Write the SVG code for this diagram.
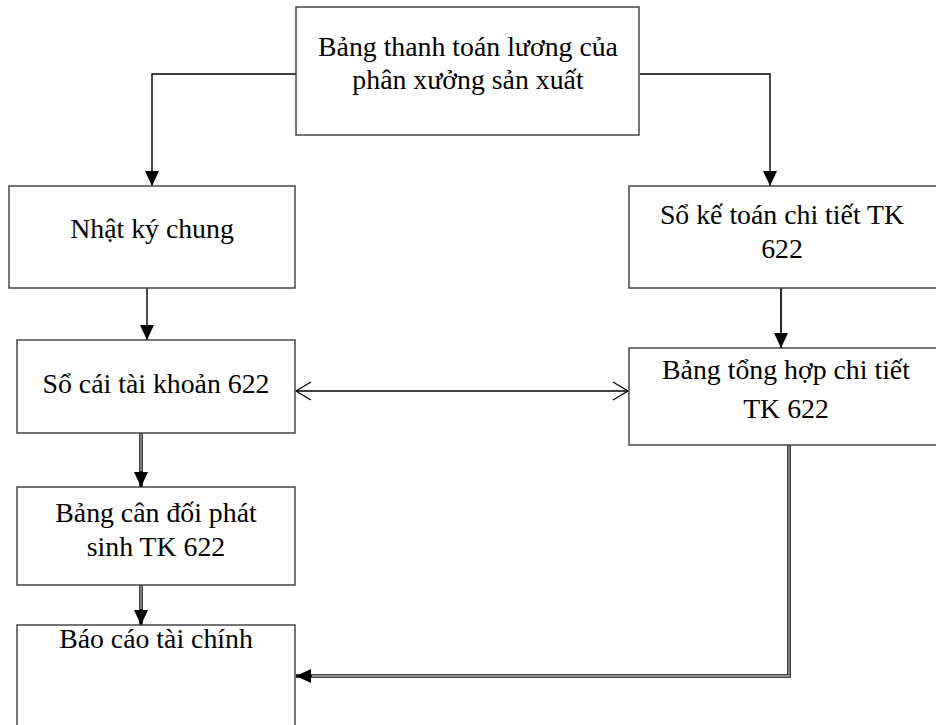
<svg xmlns="http://www.w3.org/2000/svg" width="936" height="725" viewBox="0 0 936 725">
  <style>
    .box { fill: #fff; stroke: #3a3a3a; stroke-width: 1.4; }
    .lbl { font-family: "Liberation Serif", "Times New Roman", serif; font-size: 27.8px; fill: #000; text-anchor: middle; }
    .line { fill: none; stroke: #000; stroke-width: 1.4; }
    .thick { fill: none; stroke: #2a2a2a; stroke-width: 2; }
    .dbl-out { fill: none; stroke: #111; stroke-width: 3.6; }
    .dbl-in { fill: none; stroke: #b8b8b8; stroke-width: 1.3; }
  </style>
  <defs>
    <marker id="solid" markerUnits="userSpaceOnUse" markerWidth="16" markerHeight="14" refX="15" refY="7" orient="auto">
      <path d="M0,0 L15,7 L0,14 Z" fill="#000"/>
    </marker>
    <marker id="open" markerUnits="userSpaceOnUse" markerWidth="18" markerHeight="20" refX="16" refY="10" orient="auto-start-reverse">
      <path d="M1,1 L16,10 L1,19" fill="none" stroke="#000" stroke-width="1.3"/>
    </marker>
  </defs>

  <rect width="936" height="725" fill="#fff"/>

  <!-- connectors -->
  <g id="connectors">
    <path class="line" d="M297,74 H152 V186" marker-end="url(#solid)"/>
    <path class="line" d="M640,74 H770 V186" marker-end="url(#solid)"/>
    <path class="line" d="M147,288 V340" marker-end="url(#solid)"/>
    <path class="thick" d="M781,288 V348" marker-end="url(#solid)"/>
    <path class="line" d="M296,391 H628" marker-start="url(#open)" marker-end="url(#open)"/>
    <path class="dbl-out" d="M141,433 V487" stroke-width="3" marker-end="url(#solid)"/>
    <path class="dbl-in" d="M141,433 V471" stroke-width="1"/>
    <path class="dbl-out" d="M141,585 V625" stroke-width="3" marker-end="url(#solid)"/>
    <path class="dbl-in" d="M141,585 V609" stroke-width="1"/>
    <path class="dbl-out" d="M789,445 V676 H296" marker-end="url(#solid)"/>
    <path class="dbl-in" d="M789,445 V676 H312"/>
  </g>

  <g id="node-bang-thanh-toan">
    <rect class="box" x="296" y="7" width="343" height="128"/>
    <text class="lbl" x="468" y="56">Bảng thanh toán lương của</text>
    <text class="lbl" x="468" y="89">phân xưởng sản xuất</text>
  </g>

  <g id="node-nhat-ky-chung">
    <rect class="box" x="9" y="186" width="286" height="102"/>
    <text class="lbl" x="152" y="238">Nhật ký chung</text>
  </g>

  <g id="node-so-ke-toan">
    <rect class="box" x="629" y="186" width="320" height="102"/>
    <text class="lbl" x="782" y="224">Sổ kế toán chi tiết TK</text>
    <text class="lbl" x="782" y="258">622</text>
  </g>

  <g id="node-so-cai">
    <rect class="box" x="17" y="340" width="278" height="93"/>
    <text class="lbl" x="156" y="393">Sổ cái tài khoản 622</text>
  </g>

  <g id="node-bang-tong-hop">
    <rect class="box" x="629" y="348" width="320" height="97"/>
    <text class="lbl" x="786" y="379">Bảng tổng hợp chi tiết</text>
    <text class="lbl" x="786" y="418">TK 622</text>
  </g>

  <g id="node-bang-can-doi">
    <rect class="box" x="17" y="487" width="278" height="98"/>
    <text class="lbl" x="156" y="522">Bảng cân đối phát</text>
    <text class="lbl" x="156" y="556">sinh TK 622</text>
  </g>

  <g id="node-bao-cao">
    <rect class="box" x="17" y="625" width="278" height="120"/>
    <text class="lbl" x="156" y="648">Báo cáo tài chính</text>
  </g>
</svg>
